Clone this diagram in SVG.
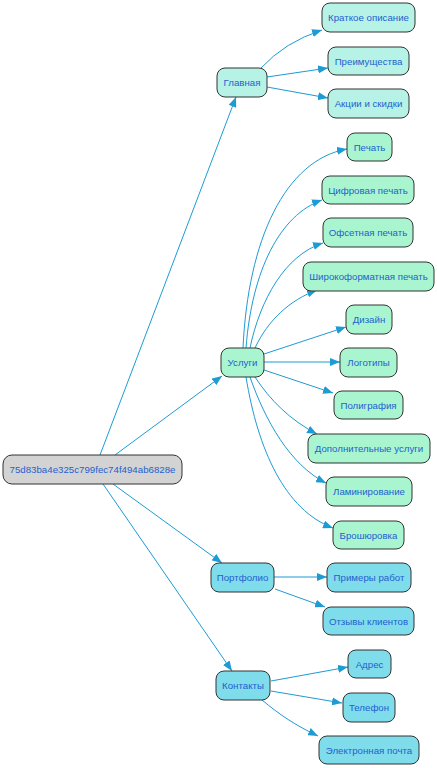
<svg xmlns="http://www.w3.org/2000/svg" width="437" height="768" viewBox="0 0 437 768">
<defs>
<marker id="ah" viewBox="0 0 10 8" refX="10" refY="4" markerWidth="10" markerHeight="8" markerUnits="userSpaceOnUse" orient="auto">
<path d="M0,0 L10,4 L0,8 Z" fill="#1d9bd3"/>
</marker>
</defs>
<style>
.n rect{stroke:#333;stroke-width:1}
.n text{font-family:"Liberation Sans",Arial,sans-serif;font-size:9.7px;fill:#1f5fcf;text-anchor:middle;dominant-baseline:central}
.root rect{fill:#d3d3d3}
.g1 rect{fill:#b6f2e6}
.g2 rect{fill:#a8f5d0}
.g3 rect{fill:#7fdcea}
#edges path{fill:none;stroke:#1d9bd3;stroke-width:1;marker-end:url(#ah)}
</style>
<rect width="437" height="768" fill="#ffffff"/>
<g id="edges">
<path d="M100,455 L236,97"/>
<path d="M115,455 L222,376"/>
<path d="M113,484 L222,563"/>
<path d="M103,484 L232,671"/>
<path d="M261,68 Q285,42 322,30"/>
<path d="M267,77 L328,68"/>
<path d="M267,87 L328,98"/>
<path d="M243,348 C248,240 285,160 347,149"/>
<path d="M246,348 C252,270 280,215 322,200"/>
<path d="M250,348 C260,300 285,255 323,243"/>
<path d="M255,348 C268,320 290,300 317,290"/>
<path d="M264,354 L346,327"/>
<path d="M264,362 L340,362"/>
<path d="M264,370 L333,393"/>
<path d="M255,377 C270,400 290,420 317,434"/>
<path d="M250,377 C265,420 290,465 326,483"/>
<path d="M246,377 C258,450 285,510 333,528"/>
<path d="M274,577 L327,577"/>
<path d="M275,589 L325,607"/>
<path d="M271,681 L348,667"/>
<path d="M271,691 L342,703"/>
<path d="M262,700 C280,715 295,725 318,736"/>
</g>
<g id="root" class="n root"><rect x="3" y="455" width="179" height="29" rx="9"/><text x="92.5" y="469.5">75d83ba4e325c799fec74f494ab6828e</text></g>
<g id="glavnaya" class="n g1"><rect x="217" y="68" width="50" height="29" rx="8"/><text x="242" y="82.5">Главная</text></g>
<g id="kratkoe" class="n g1"><rect x="322" y="3" width="93" height="29" rx="8"/><text x="368.5" y="17.5">Краткое описание</text></g>
<g id="preimushchestva" class="n g1"><rect x="328" y="47" width="81" height="28" rx="8"/><text x="368.5" y="61">Преимущества</text></g>
<g id="aktsii" class="n g1"><rect x="328" y="89" width="81" height="29" rx="8"/><text x="368.5" y="103.5">Акции и скидки</text></g>
<g id="uslugi" class="n g2"><rect x="221" y="348" width="43" height="29" rx="8"/><text x="242.5" y="362.5">Услуги</text></g>
<g id="pechat" class="n g2"><rect x="347" y="133" width="45" height="28" rx="8"/><text x="369.5" y="147">Печать</text></g>
<g id="tsifrovaya" class="n g2"><rect x="322" y="176" width="92" height="28" rx="8"/><text x="368" y="190">Цифровая печать</text></g>
<g id="ofsetnaya" class="n g2"><rect x="323" y="218" width="90" height="29" rx="8"/><text x="368" y="232.5">Офсетная печать</text></g>
<g id="shirokoformatnaya" class="n g2"><rect x="303" y="262" width="131" height="29" rx="8"/><text x="368.5" y="276.5">Широкоформатная печать</text></g>
<g id="dizain" class="n g2"><rect x="346" y="305" width="46" height="29" rx="8"/><text x="369" y="319.5">Дизайн</text></g>
<g id="logotipy" class="n g2"><rect x="340" y="348" width="57" height="29" rx="8"/><text x="368.5" y="362.5">Логотипы</text></g>
<g id="poligrafiya" class="n g2"><rect x="334" y="391" width="69" height="28" rx="8"/><text x="368.5" y="405">Полиграфия</text></g>
<g id="dopolnitelnye" class="n g2"><rect x="308" y="434" width="122" height="29" rx="8"/><text x="369" y="448.5">Дополнительные услуги</text></g>
<g id="laminirovanie" class="n g2"><rect x="326" y="477" width="86" height="29" rx="8"/><text x="369" y="491.5">Ламинирование</text></g>
<g id="broshyurovka" class="n g2"><rect x="333" y="521" width="71" height="28" rx="8"/><text x="368.5" y="535">Брошюровка</text></g>
<g id="portfolio" class="n g3"><rect x="211" y="563" width="63" height="29" rx="8"/><text x="242.5" y="577.5">Портфолио</text></g>
<g id="primery" class="n g3"><rect x="327" y="563" width="84" height="29" rx="8"/><text x="369" y="577.5">Примеры работ</text></g>
<g id="otzyvy" class="n g3"><rect x="323" y="607" width="91" height="28" rx="8"/><text x="368.5" y="621">Отзывы клиентов</text></g>
<g id="kontakty" class="n g3"><rect x="216" y="671" width="54" height="29" rx="8"/><text x="243" y="685.5">Контакты</text></g>
<g id="adres" class="n g3"><rect x="348" y="650" width="43" height="28" rx="8"/><text x="369.5" y="664">Адрес</text></g>
<g id="telefon" class="n g3"><rect x="343" y="693" width="52" height="29" rx="8"/><text x="369" y="707.5">Телефон</text></g>
<g id="email" class="n g3"><rect x="319" y="736" width="100" height="28" rx="8"/><text x="369" y="750">Электронная почта</text></g>
</svg>
